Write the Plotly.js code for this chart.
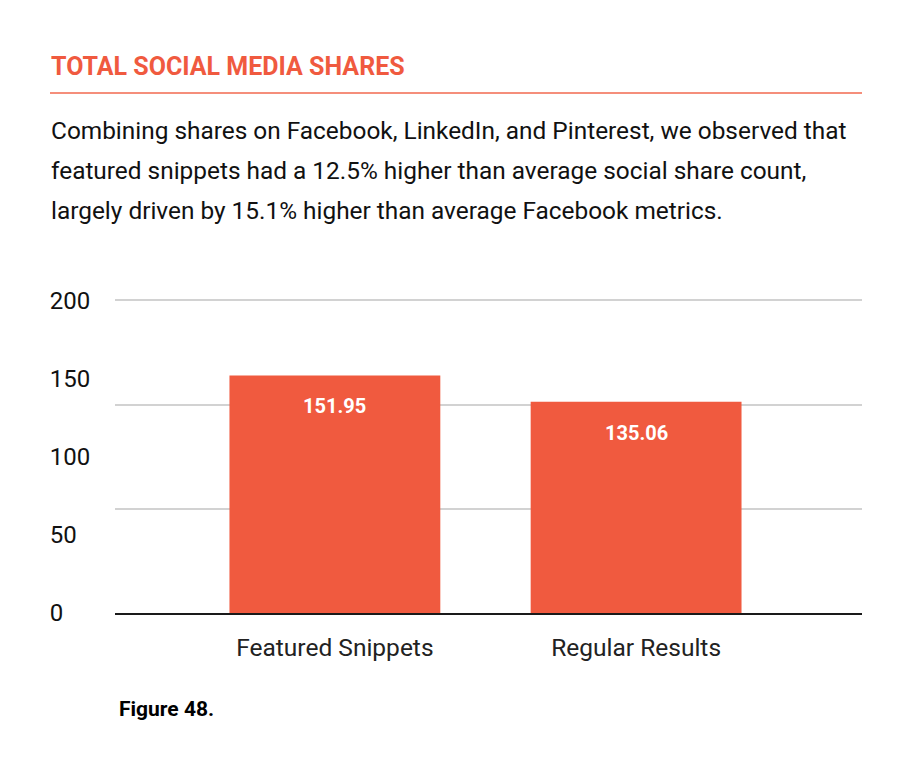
<!DOCTYPE html>
<html>
<head>
<meta charset="utf-8">
<script src="https://cdn.plot.ly/plotly-3.0.1.min.js"></script>
<style>
  html, body { margin: 0; padding: 0; background: #ffffff; }
  #chart { width: 904px; height: 782px; }
</style>
</head>
<body>
<div id="chart"></div>
<script>
// ---- data ----
const categories = ["Featured Snippets", "Regular Results"];
const shareValues = [151.95, 135.06];
const valueLabels = ["151.95", "135.06"];
const yTickValues = [0, 50, 100, 150, 200];
const yTickLabels = ["0", "50", "100", "150", "200"];
const gridValues = [200 / 3, 400 / 3, 200];
const headingText = "TOTAL SOCIAL MEDIA SHARES";
const paragraphLines = [
  "Combining shares on Facebook, LinkedIn, and Pinterest, we observed that",
  "featured snippets had a 12.5% higher than average social share count,",
  "largely driven by 15.1% higher than average Facebook metrics."
];
const figureCaption = "Figure 48.";

// ---- styling ----
const ORANGE = "#F05A3F";
const FONT = "Roboto, 'Open Sans', sans-serif";
const W = 904, H = 782;
const L = 115, R = 42, T = 294, B = 169;
const Y_MAX = 204;
const pw = W - L - R, ph = H - T - B;
const px = v => (v - L) / pw;          // page x -> paper x
const py = v => (H - B - v) / ph;      // page y -> paper y

// left-aligned looking tick labels via figure-space padding
const maxLen = Math.max(...yTickLabels.map(s => s.length));
const paddedTicks = yTickLabels.map(s => s + "\u2007".repeat(maxLen - s.length));

const barTrace = {
  type: "bar",
  x: categories,
  y: shareValues,
  marker: { color: ORANGE },
  width: 0.7,
  hoverinfo: "skip"
};

// invisible companion trace so the grid-only overlay axis is drawn
const gridTrace = {
  type: "scatter",
  x: categories,
  y: shareValues,
  yaxis: "y2",
  mode: "markers",
  marker: { opacity: 0, size: 1 },
  hoverinfo: "skip",
  showlegend: false
};

const annotations = [];
annotations.push({
  text: "<b>" + headingText + "</b>",
  xref: "paper", yref: "paper", x: px(49), y: py(66),
  xanchor: "left", yanchor: "middle", showarrow: false,
  font: { family: FONT, size: 25, color: ORANGE }
});
paragraphLines.forEach((line, i) => {
  annotations.push({
    text: line,
    xref: "paper", yref: "paper", x: px(49), y: py(130 + i * 40),
    xanchor: "left", yanchor: "middle", showarrow: false,
    font: { family: FONT, size: 24.4, color: "#111111" }
  });
});
categories.forEach((c, i) => {
  annotations.push({
    text: "<b>" + valueLabels[i] + "</b>",
    x: c, y: shareValues[i], xref: "x", yref: "y",
    yshift: -31, showarrow: false,
    font: { family: FONT, size: 20, color: "#ffffff" }
  });
});
annotations.push({
  text: "<b>" + figureCaption + "</b>",
  xref: "paper", yref: "paper", x: px(117), y: py(709),
  xanchor: "left", yanchor: "middle", showarrow: false,
  font: { family: FONT, size: 21, color: "#000000" }
});

const layout = {
  width: W, height: H,
  margin: { l: L, r: R, t: T, b: B, pad: 0 },
  paper_bgcolor: "#ffffff",
  plot_bgcolor: "rgba(0,0,0,0)",
  showlegend: false,
  bargap: 0.3,
  xaxis: {
    type: "category",
    range: [-0.73, 1.75],
    showgrid: false,
    zeroline: false,
    showline: true,
    linecolor: "#1a1a1a",
    linewidth: 1.5,
    ticks: "outside",
    ticklen: 12,
    tickcolor: "rgba(0,0,0,0)",
    tickfont: { family: FONT, size: 24.5, color: "#222222" },
    fixedrange: true
  },
  yaxis: {
    range: [0, Y_MAX],
    tickvals: yTickValues,
    ticktext: paddedTicks,
    showgrid: false,
    zeroline: false,
    showline: false,
    ticks: "outside",
    ticklen: 19,
    tickcolor: "rgba(0,0,0,0)",
    tickfont: { family: FONT, size: 24, color: "#111111" },
    fixedrange: true
  },
  yaxis2: {
    overlaying: "y",
    side: "left",
    range: [0, Y_MAX],
    tickvals: gridValues,
    showticklabels: false,
    showgrid: true,
    gridcolor: "#d2d2d2",
    gridwidth: 2,
    zeroline: false,
    showline: false,
    ticks: "",
    layer: "below traces",
    fixedrange: true
  },
  shapes: [{
    type: "line", xref: "paper", yref: "paper",
    x0: px(50), x1: px(862), y0: py(93), y1: py(93),
    line: { color: "#F2694F", width: 1.5 }
  }],
  annotations: annotations
};

Plotly.newPlot("chart", [gridTrace, barTrace], layout, { staticPlot: true, displayModeBar: false });
</script>
</body>
</html>
